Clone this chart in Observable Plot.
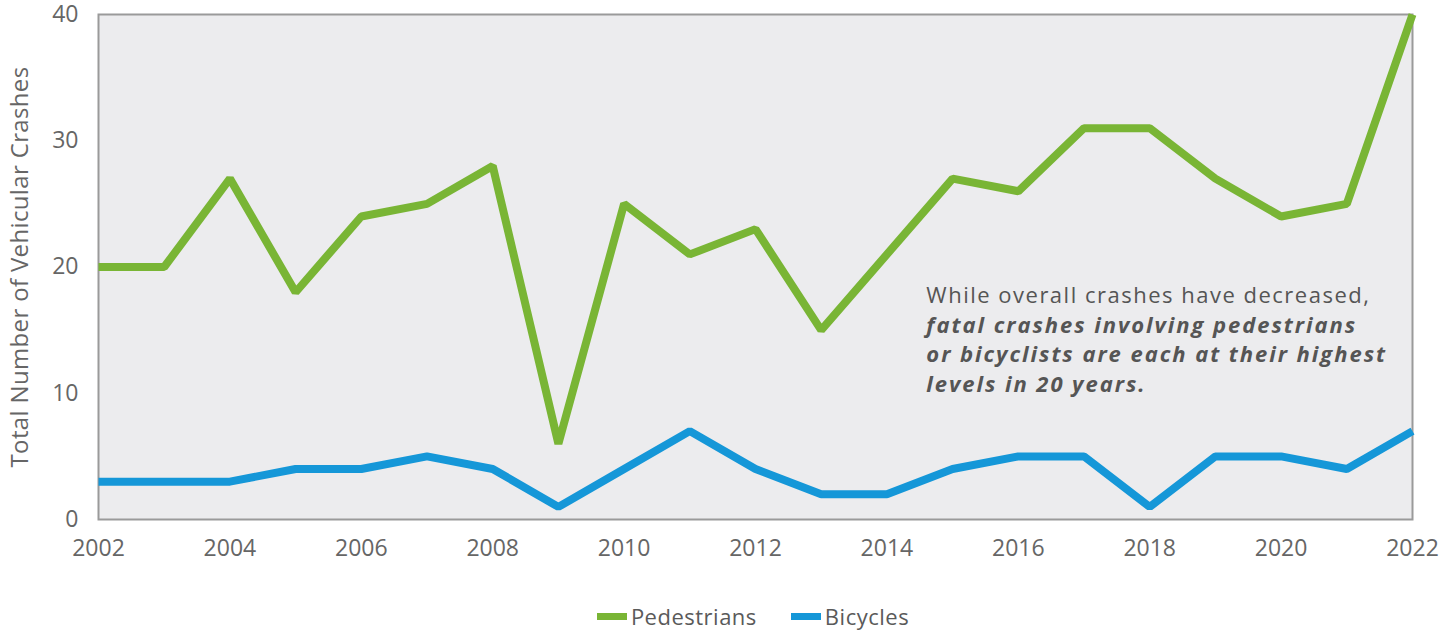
<!DOCTYPE html>
<html>
<head>
<meta charset="utf-8">
<script src="https://cdn.jsdelivr.net/npm/d3@7"></script>
<script src="https://cdn.jsdelivr.net/npm/@observablehq/plot@0.6"></script>
<style>
  body { margin: 0; background: #fff; font-family: "Open Sans", Lato, sans-serif; }
  #legend { display: flex; justify-content: center; gap: 34px; margin-top: 19px; padding-left: 64px; font-size: 22px; letter-spacing: 0.5px; color: #5a5a5a; }
  #legend span.item { display: inline-flex; align-items: center; }
  #legend span.sw { display: inline-block; width: 30px; height: 7px; margin-right: 4px; }
</style>
</head>
<body>
<div id="chart"></div>
<div id="legend"></div>
<script>
const years = [2002,2003,2004,2005,2006,2007,2008,2009,2010,2011,2012,2013,2014,2015,2016,2017,2018,2019,2020,2021,2022];
const pedestrians = [20,20,27,18,24,25,28,6,25,21,23,15,21,27,26,31,31,27,24,25,40];
const bicycles = [3,3,3,4,4,5,4,1,4,7,4,2,2,4,5,5,1,5,5,4,7];
const seriesNames = ["Pedestrians","Bicycles"];
const seriesColors = ["#79b535","#1597d8"];
const xTicks = [2002,2004,2006,2008,2010,2012,2014,2016,2018,2020,2022];
const yTicks = [0,10,20,30,40];
const yLabel = "Total Number of Vehicular Crashes";
const noteLine1 = "While overall crashes have decreased,";
const noteLines2 = ["fatal crashes involving pedestrians", "or bicyclists are each at their highest", "levels in 20 years."];

const data = [];
years.forEach((y, i) => {
  data.push({year: y, value: pedestrians[i], series: seriesNames[0]});
  data.push({year: y, value: bicycles[i], series: seriesNames[1]});
});

const noteX = 2014.6, noteY = 17.7, noteStep = 29.5;
const noteMarks = [
  Plot.text([noteLine1], {x: noteX, y: noteY, text: d => d, textAnchor: "start", lineAnchor: "middle", fontSize: 22, fill: "#555"}),
  ...noteLines2.map((line, i) =>
    Plot.text([line], {x: noteX, y: noteY, dy: (i + 1) * noteStep, text: d => d, textAnchor: "start", lineAnchor: "middle", fontSize: 22, fontWeight: "bold", fontStyle: "italic", fill: "#555"}))
];

const chart = Plot.plot({
  width: 1442,
  height: 582,
  marginLeft: 98,
  marginRight: 30,
  marginTop: 14,
  marginBottom: 63,
  style: {fontFamily: "'Open Sans', Lato, sans-serif", fontSize: "24px", color: "#666", background: "#fff"},
  x: {domain: [2002, 2022]},
  y: {domain: [0, 40]},
  color: {domain: seriesNames, range: seriesColors},
  marks: [
    Plot.frame({fill: "#ececee", stroke: "#9a9a9a", strokeWidth: 2}),
    Plot.axisX({ticks: xTicks, tickFormat: "d", tickSize: 0, tickPadding: 20, label: null, fontSize: 23}),
    Plot.axisY({ticks: yTicks, tickSize: 0, tickPadding: 20, label: yLabel, labelAnchor: "center", labelArrow: "none", labelOffset: 88, fontSize: 23}),
    Plot.line(data, {x: "year", y: "value", z: "series", stroke: "series", strokeWidth: 8, strokeLinejoin: "miter", strokeLinecap: "butt"}),
    ...noteMarks
  ]
});
// widen the annotation and axis label type to match the reference's geometric face
chart.querySelectorAll("text").forEach(t => {
  const s = t.textContent;
  if (s === noteLine1) t.setAttribute("letter-spacing", "1.5");
  else if (noteLines2.includes(s)) t.setAttribute("letter-spacing", "1.95");
  else if (s === yLabel) { t.setAttribute("letter-spacing", "0.35"); t.setAttribute("font-size", "24"); }
});
document.getElementById("chart").appendChild(chart);

const legend = document.getElementById("legend");
seriesNames.forEach((n, i) => {
  const it = document.createElement("span");
  it.className = "item";
  const sw = document.createElement("span");
  sw.className = "sw";
  sw.style.background = seriesColors[i];
  it.appendChild(sw);
  it.appendChild(document.createTextNode(n));
  legend.appendChild(it);
});
</script>
</body>
</html>
